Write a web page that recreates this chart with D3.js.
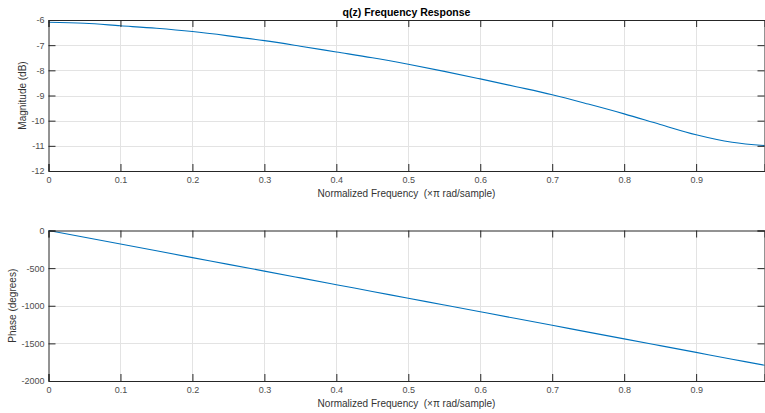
<!DOCTYPE html>
<html><head><meta charset="utf-8">
<script src="https://cdn.jsdelivr.net/npm/d3@7"></script>
<style>body{margin:0;background:#fff}svg{display:block;font-family:"Liberation Sans",Arial,sans-serif}</style>
</head><body><svg id="c" width="765" height="413"></svg>
<script>
const freq = [0, 0.05, 0.1, 0.15, 0.2, 0.25, 0.3, 0.35, 0.4, 0.45, 0.5, 0.55, 0.6, 0.65, 0.7, 0.75, 0.8, 0.85, 0.9, 0.95, 0.995];
const magnitudeDb = [-6.09, -6.13, -6.23, -6.33, -6.46, -6.63, -6.82, -7.04, -7.27, -7.50, -7.76, -8.04, -8.34, -8.65, -8.97, -9.34, -9.73, -10.15, -10.56, -10.86, -10.99];
const phaseDeg = [0, -90, -180, -270, -360, -450, -540, -630, -720, -810, -900, -990, -1080, -1170, -1260, -1350, -1440, -1530, -1620, -1710, -1791];
const xTicks = [0, 0.1, 0.2, 0.3, 0.4, 0.5, 0.6, 0.7, 0.8, 0.9];
const magTicks = [-12, -11, -10, -9, -8, -7, -6];
const phaseTicks = [-2000, -1500, -1000, -500, 0];
const title = "q(z) Frequency Response";
const xLabel = "Normalized Frequency  (\u00D7\u03C0 rad/sample)";

const svg = d3.select("#c");
const left = 48.5, right = 764.5;
const x = d3.scaleLinear().domain([0, 0.995]).range([left, right]);
const fmt = d => String(d);

function panel(top, bottom, yDomain, ticks, vals, ylab, ylabX, xlabY) {
  const y = d3.scaleLinear().domain(yDomain).range([bottom, top]);
  const g = svg.append("g");
  g.append("g").selectAll("line").data(xTicks.slice(1)).join("line")
    .attr("x1", d => Math.round(x(d)) + 0.5).attr("x2", d => Math.round(x(d)) + 0.5).attr("y1", top).attr("y2", bottom)
    .attr("stroke", "#e3e3e3").attr("stroke-width", 1);
  g.append("g").selectAll("line").data(ticks.slice(1, -1)).join("line")
    .attr("x1", left).attr("x2", right).attr("y1", d => Math.round(y(d)) + 0.5).attr("y2", d => Math.round(y(d)) + 0.5)
    .attr("stroke", "#e3e3e3").attr("stroke-width", 1);
  const line = d3.line().x((d, i) => x(freq[i])).y(d => y(d)).curve(d3.curveCatmullRom);
  g.append("path").datum(vals).attr("d", line).attr("fill", "none")
    .attr("stroke", "#0072BD").attr("stroke-width", 1.1);
  const tl = 7;
  const axB = d3.axisBottom(x).tickValues(xTicks).tickSize(-tl).tickPadding(6).tickFormat(fmt);
  const axT = d3.axisTop(x).tickValues(xTicks).tickSize(-tl).tickFormat("");
  const axL = d3.axisLeft(y).tickValues(ticks).tickSize(-tl).tickPadding(4).tickFormat(fmt);
  const axR = d3.axisRight(y).tickValues(ticks).tickSize(-tl).tickFormat("");
  [[axB, `translate(0,${bottom})`], [axT, `translate(0,${top})`], [axL, `translate(${left},0)`], [axR, `translate(${right},0)`]].forEach(([a, t]) => {
    const ag = g.append("g").attr("transform", t).call(a);
    ag.select(".domain").attr("stroke", "#262626");
    ag.selectAll(".tick line").attr("stroke", "#262626");
    ag.selectAll("text").attr("fill", "#4d4d4d").style("font-size", "9px").style("font-family", "Liberation Sans, Arial, sans-serif");
  });
  g.append("text").attr("x", (left + right) / 2).attr("y", xlabY).attr("text-anchor", "middle")
    .style("white-space", "pre").attr("xml:space", "preserve")
    .attr("fill", "#333").style("font-size", "10px").text(xLabel);
  g.append("text").attr("transform", `translate(${ylabX},${(top + bottom) / 2}) rotate(-90)`)
    .attr("text-anchor", "middle").attr("fill", "#333").style("font-size", "10px").text(ylab);
}

panel(20, 171, [-12, -6], magTicks, magnitudeDb, "Magnitude (dB)", 26, 197);
panel(230.5, 381, [-2000, 0], phaseTicks, phaseDeg, "Phase (degrees)", 16, 407);

svg.append("text").attr("x", (left + right) / 2).attr("y", 15.5).attr("text-anchor", "middle")
  .attr("font-weight", "bold").attr("fill", "#000").style("font-size", "10.5px").text(title);
</script></body></html>
